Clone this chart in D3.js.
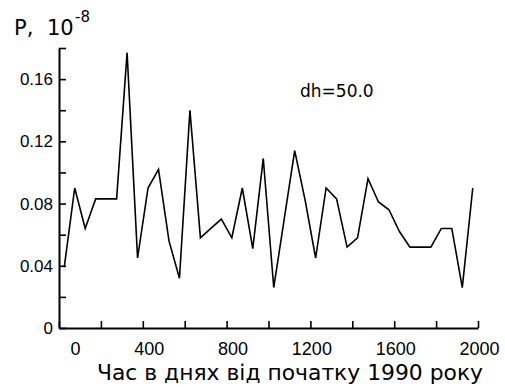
<!DOCTYPE html>
<html lang="uk">
<head>
  <meta charset="utf-8">
  <title>P, 10^-8 vs days since 1990</title>
  <script src="https://cdnjs.cloudflare.com/ajax/libs/d3/7.8.5/d3.min.js"></script>
  <style>
    body { margin: 0; background: #fff; }
    svg { display: block; font-family: "DejaVu Sans", sans-serif; }
    .axis path, .axis line { stroke: #000; }
    .axis text { fill: #000; }
  </style>
</head>
<body>
<svg id="chart"></svg>
<script>
// days since start of 1990 (step dh = 50)
var days = [25, 75, 125, 175, 225, 275, 325, 375, 425, 475,
            525, 575, 625, 675, 725, 775, 825, 875, 925, 975,
            1025, 1075, 1125, 1175, 1225, 1275, 1325, 1375, 1425, 1475,
            1525, 1575, 1625, 1675, 1725, 1775, 1825, 1875, 1925, 1975];
// P, units of 1e-8
var pValues = [0.039, 0.090, 0.064, 0.083, 0.083, 0.083, 0.177, 0.045, 0.090, 0.102,
               0.056, 0.032, 0.140, 0.058, 0.064, 0.070, 0.058, 0.090, 0.051, 0.109,
               0.026, 0.070, 0.114, 0.082, 0.045, 0.090, 0.083, 0.052, 0.058, 0.096,
               0.081, 0.076, 0.062, 0.052, 0.052, 0.052, 0.064, 0.064, 0.026, 0.090];

var xTicks = [0, 200, 400, 600, 800, 1000, 1200, 1400, 1600, 1800, 2000];
var xLabels = [0, 400, 800, 1200, 1600, 2000];
var yTicks = [0, 0.02, 0.04, 0.06, 0.08, 0.10, 0.12, 0.14, 0.16, 0.18];
var yLabels = [0, 0.04, 0.08, 0.12, 0.16];

var w = 505, h = 387;
var plotL = 59, plotR = 478, plotT = 48, plotB = 328;

var svg = d3.select("#chart").attr("width", w).attr("height", h);

var x = d3.scaleLinear().domain([0, 2000]).range([plotL, plotR]);
var y = d3.scaleLinear().domain([0, 0.18]).range([plotB, plotT]);

//y axis, ticks pointing inside
var yAxis = d3.axisLeft(y)
  .tickValues(yTicks)
  .tickSizeInner(-7)
  .tickSizeOuter(0)
  .tickFormat(function(d) {
    if (!yLabels.some(function(v) { return Math.abs(v - d) < 1e-9; })) return "";
    return d === 0 ? "0" : d3.format(".2f")(d);
  });

var gy = svg.append("g")
  .attr("class", "axis")
  .attr("transform", "translate(" + plotL + ",0)")
  .call(yAxis);
gy.select(".domain").attr("stroke-width", 2);
gy.selectAll(".tick line").attr("stroke-width", 1.6);
gy.selectAll(".tick text")
  .attr("x", -6)
  .attr("dy", "0.32em")
  .style("font-size", "17px");

//x axis
var xAxis = d3.axisBottom(x)
  .tickValues(xTicks)
  .tickSizeInner(-7)
  .tickSizeOuter(0)
  .tickFormat(function(d) { return xLabels.indexOf(d) >= 0 ? d : ""; });

var gx = svg.append("g")
  .attr("class", "axis")
  .attr("transform", "translate(0," + plotB + ")")
  .call(xAxis);
gx.select(".domain").attr("stroke-width", 2);
gx.selectAll(".tick line").attr("stroke-width", 1.6);
gx.selectAll(".tick text")
  .attr("text-anchor", "end")
  .attr("x", 21)
  .attr("y", 27)
  .attr("dy", null)
  .style("font-size", "18px");

//the curve
var points = days.map(function(d, i) { return [d, pValues[i]]; });
var line = d3.line()
  .x(function(d) { return x(d[0]); })
  .y(function(d) { return y(d[1]); });

svg.append("path")
  .datum(points)
  .attr("d", line)
  .attr("fill", "none")
  .attr("stroke", "#000")
  .attr("stroke-width", 1.6)
  .attr("stroke-linejoin", "miter");

//y label
var yl = svg.append("text").attr("y", 35).style("font-size", "21px");
yl.append("tspan").attr("x", 14).text("P,");
yl.append("tspan").attr("x", 47).text("10");
yl.append("tspan").attr("x", 75).attr("dy", -13).style("font-size", "15px").text("-8");

//annotation
svg.append("text")
  .attr("x", 300)
  .attr("y", 97)
  .style("font-size", "17px")
  .text("dh=50.0");

//x title
svg.append("text")
  .attr("x", 97)
  .attr("y", 380)
  .attr("textLength", 386)
  .attr("lengthAdjust", "spacingAndGlyphs")
  .style("font-size", "21px")
  .text("Час в днях від початку 1990 року");
</script>
</body>
</html>
